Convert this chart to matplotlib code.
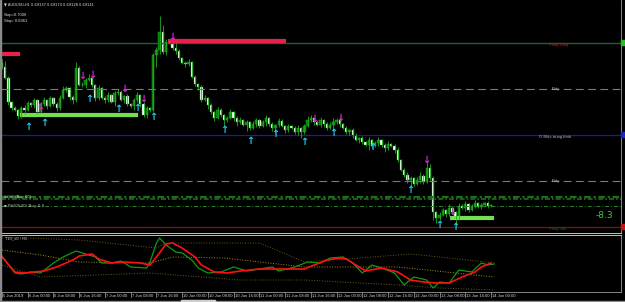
import matplotlib
matplotlib.use('Agg')
import matplotlib.pyplot as plt
import numpy as np

plt.rcParams['font.family'] = ['Liberation Sans Narrow', 'Liberation Sans', 'DejaVu Sans']

# ---------------- data ----------------
x_labels = ["5 Jun 2019", "6 Jun 00:00", "6 Jun 08:00", "6 Jun 16:00", "7 Jun 00:00",
            "7 Jun 08:00", "7 Jun 16:00", "10 Jun 00:00", "10 Jun 08:00", "10 Jun 16:00",
            "11 Jun 00:00", "11 Jun 08:00", "11 Jun 16:00", "12 Jun 00:00", "12 Jun 08:00",
            "12 Jun 16:00", "13 Jun 00:00", "13 Jun 08:00", "13 Jun 16:00", "14 Jun 00:00"]
label_bars = [0, 8, 16, 24, 32, 40, 48, 56, 64, 72, 80, 88, 96, 104, 112, 120, 128, 136, 144, 152]

first_open = 69850
closes = [69830, 69775, 69655, 69625, 69615, 69585, 69625, 69615, 69650, 69640,
          69665, 69605, 69645, 69665, 69635, 69675, 69645, 69625, 69675, 69715,
          69725, 69680, 69665, 69825, 69740, 69740, 69765, 69775, 69740, 69675,
          69725, 69675, 69665, 69690, 69655, 69700, 69705, 69665, 69685, 69645,
          69635, 69665, 69690, 69645, 69590, 69625, 69615, 69890, 69915, 70005,
          69905, 69955, 69950, 69925, 69910, 69875, 69850, 69845, 69855, 69780,
          69745, 69730, 69665, 69675, 69640, 69605, 69575, 69615, 69590, 69565,
          69575, 69605, 69575, 69555, 69565, 69540, 69555, 69525, 69545, 69565,
          69535, 69555, 69575, 69545, 69525, 69540, 69560, 69535, 69515, 69535,
          69525, 69505, 69525, 69505, 69535, 69565, 69575, 69555, 69540, 69565,
          69545, 69525, 69540, 69555, 69565, 69545, 69525, 69505, 69515, 69485,
          69465, 69475, 69455, 69440, 69465, 69435, 69450, 69465, 69440, 69425,
          69445, 69435, 69415, 69365, 69315, 69290, 69265, 69275, 69245, 69265,
          69285, 69255, 69325, 69275, 69105, 69075, 69090, 69115, 69095, 69125,
          69105, 69075, 69135, 69125, 69145, 69115, 69135, 69150, 69130, 69140,
          69150, 69135, 69140]
upper_wick = [20, 30, 10, 5, 10, 5, 10, 15, 10, 5,
              10, 5, 10, 15, 5, 10, 5, 10, 15, 20,
              10, 5, 10, 30, 10, 15, 10, 20, 10, 5,
              15, 5, 10, 15, 5, 10, 15, 10, 5, 10,
              5, 10, 15, 5, 10, 10, 5, 10, 15, 80,
              35, 15, 10, 5, 25, 10, 5, 10, 15, 5,
              10, 5, 10, 15, 5, 10, 5, 15, 10, 5,
              10, 15, 5, 10, 15, 5, 10, 5, 15, 10,
              5, 10, 15, 5, 10, 5, 15, 10, 5, 10,
              5, 10, 15, 5, 10, 20, 15, 5, 10, 15,
              5, 10, 15, 20, 10, 15, 5, 10, 5, 10,
              15, 5, 10, 5, 15, 5, 10, 15, 5, 10,
              15, 5, 10, 15, 5, 10, 15, 10, 5, 15,
              20, 10, 35, 20, 10, 5, 15, 10, 5, 20,
              10, 5, 15, 10, 15, 5, 10, 15, 5, 10,
              5, 10, 5]
lower_wick = [10, 5, 15, 10, 5, 15, 10, 20, 5, 10,
              15, 10, 5, 10, 15, 5, 10, 15, 10, 5,
              10, 15, 20, 10, 5, 10, 15, 5, 10, 15,
              10, 5, 15, 10, 5, 20, 10, 5, 15, 10,
              10, 20, 10, 15, 10, 15, 10, 10, 60, 20,
              10, 15, 5, 10, 15, 10, 5, 15, 10, 5,
              10, 15, 10, 5, 20, 10, 15, 5, 10, 30,
              10, 5, 15, 20, 10, 5, 30, 10, 5, 15,
              10, 5, 20, 10, 15, 30, 10, 5, 15, 10,
              5, 10, 15, 30, 10, 5, 10, 15, 5, 10,
              15, 10, 5, 30, 10, 15, 5, 10, 15, 10,
              5, 15, 10, 5, 25, 10, 5, 15, 10, 20,
              10, 5, 15, 10, 5, 10, 15, 30, 10, 5,
              15, 10, 5, 10, 40, 25, 10, 5, 15, 10,
              5, 40, 10, 5, 15, 10, 5, 10, 5, 10,
              5, 10, 5]

# horizontal levels (price points)
lvl_green, lvl_dash1, lvl_blue, lvl_dash2 = 69950, 69720, 69490, 69260
lvl_zone1, lvl_zone2, lvl_zone3, lvl_red = 69180, 69170, 69135, 69030

# supply / demand bars: (start bar, end bar, price)
sell_zones = [(-0.3, 5.6, 69895), (51.6, 88.3, 69960)]
buy_zones = [(5.6, 42.3, 69590), (139.3, 153.0, 69075)]

up_arrow_bars = [8, 13, 27, 36, 42, 47, 69, 77, 85, 94, 103, 115, 127, 136, 141]
up_arrow_px = [69530, 69550, 69670, 69620, 69625, 69580, 69515, 69460, 69495, 69455,
               69500, 69430, 69215, 69040, 69030]
dn_arrow_bars = [12, 25, 28, 38, 44, 53, 97, 105, 132, 140]
dn_arrow_px = [69630, 69785, 69790, 69720, 69670, 69980, 69570, 69575, 69365, 69105]

# TDI indicator knots (bar index, value)
rsi_bars = [0, 4, 6, 9, 12, 16, 19, 23, 26, 29, 31, 34, 37, 40, 45, 46, 48, 49, 51, 54,
            56, 59, 61, 64, 68, 72, 76, 84, 86, 91, 95, 99, 102, 106, 109, 112, 115, 118,
            122, 125, 128, 132, 134, 136, 139, 142, 146, 149, 151, 153]
rsi_vals = [54, 37, 36, 38, 37, 47, 53, 59, 56, 53, 47, 47, 49, 43, 42, 48, 67, 72, 65, 58,
            57, 50, 42, 37, 38, 43, 39, 43, 39, 43, 48, 47, 52, 53, 47, 37, 45, 42,
            37, 25, 33, 30, 22, 28, 27, 40, 38, 47, 45, 46]
sig_bars = [0, 4, 7, 13, 17, 22, 24, 28, 30, 34, 38, 43, 46, 48, 51, 53, 56, 60, 62, 66,
            70, 74, 80, 86, 94, 97, 101, 105, 107, 111, 113, 118, 123, 127, 131, 135, 139,
            143, 147, 149, 152]
sig_vals = [53, 38, 37, 39, 43, 50, 54, 56, 51, 47, 48, 47, 45, 53, 66, 67, 62, 53, 45, 38,
            37, 39, 41, 41, 41, 45, 50, 52, 51, 43, 39, 42, 38, 30, 28, 27, 27,
            33, 38, 43, 47]
band_bars_up = [0, 24, 48, 51, 80, 94, 111, 127, 136, 153]
band_vals_up = [73, 70, 62, 67, 67, 48, 52, 56, 53, 47]
band_bars_mid = [0, 12, 24, 46, 53, 69, 94, 123, 153]
band_vals_mid = [60, 55, 48, 47, 53, 52, 43, 43, 33]
band_bars_lo = [0, 12, 46, 74, 94, 123, 136, 153]
band_vals_lo = [45, 33, 37, 30, 30, 25, 22, 20]

# ---------------- figure ----------------
W, H = 625, 302
fig = plt.figure(figsize=(W / 100, H / 100), dpi=100, facecolor='black')


def fx(px):
    return px / W


def fy(py):
    return 1 - py / H


ax = fig.add_axes([fx(1), fy(233), fx(621) - fx(1), fy(0) - fy(233)])
ax2 = fig.add_axes([fx(1), fy(292), fx(621) - fx(1), fy(235) - fy(292)])
for a in (ax, ax2):
    a.set_facecolor('black')
    a.set_xticks([])
    a.set_yticks([])
    a.set_xlim(-0.31, 192.4)
    for s in a.spines.values():
        s.set_color('#9a9a9a')
        s.set_linewidth(0.6)
ax.spines['bottom'].set_color('#e0e0e0')
ax.spines['top'].set_visible(False)
ax2.spines['top'].set_color('#e0e0e0')

ax.set_ylim(0.69000, 0.70165)
ax2.set_ylim(18, 75)

P = 1e5
c = np.array(closes) / P
o = np.concatenate([[first_open], closes[:-1]]) / P
hi = np.maximum(o, c) + np.array(upper_wick) / P
lo = np.minimum(o, c) - np.array(lower_wick) / P
idx = np.arange(len(c))
bull = c >= o

# levels
ax.axhline(lvl_green / P, color='#0c6a3a', lw=1.0)
ax.axhline(lvl_dash1 / P, color='#7a7a7a', lw=0.8, dashes=(7, 4))
ax.axhline(lvl_blue / P, color='#1a1aa8', lw=0.9)
ax.axhline(lvl_dash2 / P, color='#7a7a7a', lw=0.8, dashes=(7, 4))
ax.axhline(lvl_zone1 / P, color='#1c6e1c', lw=1.6, dashes=(3, 1.2, 1, 1.2))
ax.axhline(lvl_zone2 / P, color='#1c6e1c', lw=1.2, dashes=(3, 1.2, 1, 1.2))
ax.axhline(lvl_zone3 / P, color='#2a8a2a', lw=0.7, dashes=(4, 2, 1, 2))
ax.axhline(lvl_red / P, color='#9a0a0a', lw=0.9)

# zones
for s, e, p in sell_zones:
    ax.plot([s, e], [p / P, p / P], color='#e8204a', lw=3.0, solid_capstyle='butt')
for s, e, p in buy_zones:
    ax.plot([s, e], [p / P, p / P], color='#72e050', lw=3.0, solid_capstyle='butt')

# candles
ax.vlines(idx, lo, hi, color='#1cae1c', lw=0.6)
ax.bar(idx[bull], (c - o)[bull], bottom=o[bull], width=0.72, color='#0b7a0b',
       edgecolor='#22c022', lw=0.3)
ax.bar(idx[~bull], (c - o)[~bull], bottom=o[~bull], width=0.72, color='#ffffff',
       edgecolor='#22b022', lw=0.3)

# arrows
for b, p in zip(up_arrow_bars, up_arrow_px):
    ax.text(b, p / P, '\u2191', color='#22c8f0', fontsize=7, fontweight='bold',
            ha='center', va='center', family='DejaVu Sans')
for b, p in zip(dn_arrow_bars, dn_arrow_px):
    ax.text(b, p / P, '\u2193', color='#e020e0', fontsize=7, fontweight='bold',
            ha='center', va='center', family='DejaVu Sans')

# right-side labels
fs = 3.0
tx = 170
ax.text(tx, lvl_green / P, 'Vùng cung', color='#d01a1a', fontsize=fs, va='top')
ax.text(tx + 1, lvl_dash1 / P, 'Đáy', color='#c0c0c0', fontsize=fs, va='center')
ax.text(tx - 3, lvl_blue / P, 'O Mức trung bình', color='#c0c0c0', fontsize=fs, va='top')
ax.text(tx + 1, lvl_dash2 / P, 'Đáy', color='#c0c0c0', fontsize=fs, va='center')
ax.text(tx, lvl_red / P, 'Vùng cầu', color='#1a6a1a', fontsize=fs, va='top')
ax.text(184.5, 0.69085, '-8.3', color='#3ccc3c', fontsize=6.5, va='center',
        family='DejaVu Sans')
ax.text(0.5, lvl_zone1 / P, '#####(Buy 60)', color='#e0e0e0', fontsize=fs, va='center')
ax.text(0.5, lvl_zone3 / P, '\u25aa PH(0530) Buy 0.0', color='#c0c0c0', fontsize=fs,
        va='center', family=['Liberation Sans Narrow', 'DejaVu Sans'])

# header
fig.text(fx(4), fy(5), '\u25bc AUDUSD,H1 0.69137 0.69174 0.69128 0.69141', color='#e0e0e0',
         fontsize=2.6, va='center', family=['Liberation Sans Narrow', 'DejaVu Sans'])
fig.text(fx(4), fy(15), 'Stop=0.7006', color='#e0e0e0', fontsize=fs, va='center')
fig.text(fx(4), fy(21), 'Stop: 0.6961', color='#e0e0e0', fontsize=fs, va='center')

# TDI
ax2.plot(band_bars_up, band_vals_up, color='#6b5a18', lw=0.7, ls=':')
ax2.plot(band_bars_mid, band_vals_mid, color='#b0901a', lw=0.7, ls=':')
ax2.plot(band_bars_lo, band_vals_lo, color='#6b5a18', lw=0.7, ls=':')
ax2.plot(rsi_bars, rsi_vals, color='#119a11', lw=0.9)
ax2.plot(sig_bars, sig_vals, color='#ff1010', lw=1.2)
ax2.text(0.8, 72, 'TDI_v0 : H1', color='#d0d0d0', fontsize=fs, va='center')

# right price-scale strip markers
fig.patches.append(plt.Rectangle((fx(621), fy(45)), fx(4), 5 / H, color='#22c022',
                                 transform=fig.transFigure))
fig.patches.append(plt.Rectangle((fx(621), fy(137)), fx(4), 5 / H, color='#2020d0',
                                 transform=fig.transFigure))
fig.patches.append(plt.Rectangle((fx(621), fy(229)), fx(4), 5 / H, color='#d01010',
                                 transform=fig.transFigure))

# x labels
for b, t in zip(label_bars, x_labels):
    ax2.text(b + 0.3, -0.04, t, transform=ax2.get_xaxis_transform(), color='#d8d8d8',
             fontsize=fs, ha='left', va='top')
    ax2.plot([b, b], [0, -0.08], transform=ax2.get_xaxis_transform(), color='#aaaaaa', lw=0.5,
             clip_on=False)

# left grey border and bottom strip
fig.patches.append(plt.Rectangle((0, 0), fx(1.5), 1, color='#8a8a8a', transform=fig.transFigure))
fig.patches.append(plt.Rectangle((0, 0), 1, 1.2 / H, color='#8a8a8a', transform=fig.transFigure))
fig.patches.append(plt.Rectangle((fx(181), 0), fx(34), 2 / H, color='#d0d0d0',
                                 transform=fig.transFigure))

fig.savefig('out.png', dpi=100, facecolor='black')
